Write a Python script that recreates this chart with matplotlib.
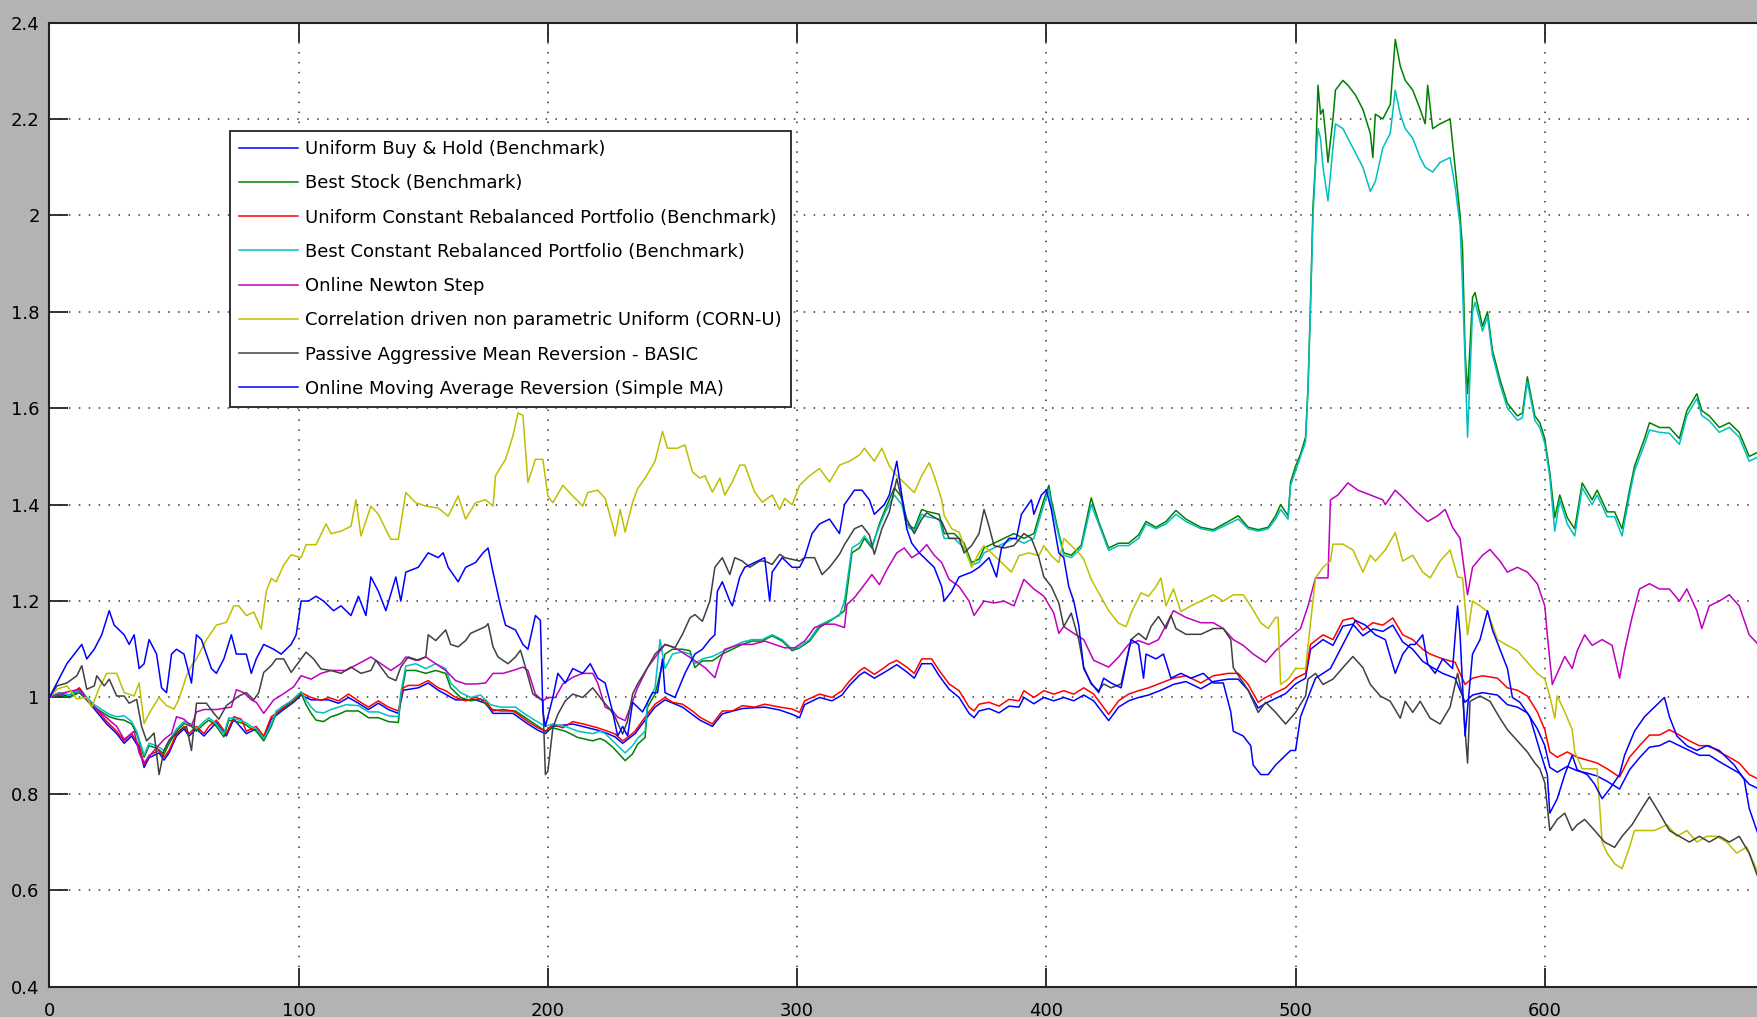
import matplotlib
matplotlib.use('Agg')
import matplotlib.pyplot as plt


labels = ['Uniform Buy & Hold (Benchmark)',
          'Best Stock (Benchmark)',
          'Uniform Constant Rebalanced Portfolio (Benchmark)',
          'Best Constant Rebalanced Portfolio (Benchmark)',
          'Online Newton Step',
          'Correlation driven non parametric Uniform (CORN-U)',
          'Passive Aggressive Mean Reversion - BASIC',
          'Online Moving Average Reversion (Simple MA)']

# (day, wealth) pairs
ubah = [(0,1.00),(4,1.01),(8,1.00),(12,1.015),(15,0.995),(19,0.97),(23,0.945),(27,0.925),(30,0.905),(33,0.92),
        (36,0.895),(38,0.855),(40,0.875),(44,0.885),(46,0.87),(48,0.885),(51,0.92),(54,0.935),(56,0.92),(59,0.935),
        (62,0.92),(67,0.948),(71,0.92),(74,0.955),(79,0.925),(83,0.935),(86,0.915),(89,0.955),(94,0.975),(98,0.99),
        (101,1.005),(105,0.995),(112,0.995),(116,0.988),(120,1.0),(124,0.988),(128,0.975),(132,0.988),(136,0.975),
        (140,0.967),(142,1.015),(148,1.02),(152,1.03),(156,1.015),(163,0.995),(171,0.995),(175,0.988),(178,0.967),
        (186,0.967),(192,0.945),(196,0.932),(199,0.925),(202,0.94),(210,0.945),(220,0.932),(224,0.925),(227,0.918),
        (230,0.905),(235,0.925),(240,0.96),(243,0.98),(247,0.995),(254,0.98),(261,0.953),(266,0.94),(270,0.966),
        (278,0.977),(287,0.98),(293,0.974),(298,0.965),(301,0.958),(303,0.985),(309,1.0),(314,0.993),(318,1.005),
        (321,1.025),(325,1.046),(327,1.053),(331,1.04),(335,1.052),(340,1.068),(344,1.053),(347,1.04),(350,1.07),
        (354,1.07),(357,1.045),(361,1.017),(365,1.0),(369,0.967),(371,0.958),(373,0.972),(377,0.977),(381,0.968),
        (385,0.982),(389,0.98),(391,1.0),(395,0.987),(399,1.0),(403,0.993),(407,1.0),(411,0.993),(415,1.005),
        (419,0.993),(425,0.952),(429,0.98),(433,0.993),(437,1.0),(441,1.005),(446,1.015),(451,1.027),(456,1.033),
        (462,1.018),(467,1.033),(473,1.038),(477,1.038),(481,1.015),(485,0.978),(488,0.988),(492,0.998),(496,1.008),
        (500,1.028),(504,1.04),(506,1.10),(511,1.12),(515,1.108),(519,1.148),(523,1.152),(527,1.128),(531,1.142),
        (535,1.137),(539,1.15),(543,1.115),(547,1.10),(551,1.075),(554,1.065),(559,1.05),(564,1.04),(568,0.99),
        (571,1.005),(575,1.01),(581,1.005),(585,0.985),(589,0.98),(593,0.968),(597,0.935),(600,0.9),(602,0.855),
        (605,0.845),(609,0.857),(613,0.848),(617,0.843),(621,0.837),(625,0.826),(630,0.81),(634,0.85),(638,0.875),
        (642,0.897),(646,0.9),(650,0.91),(654,0.9),(658,0.89),(662,0.88),(666,0.88),(670,0.867),(674,0.855),
        (678,0.843),(682,0.82),(686,0.81)]

best_stock = [(0,1.00),(4,1.005),(8,1.00),(12,1.01),(15,0.995),(18,0.98),(21,0.97),(24,0.96),(27,0.955),(30,0.953),
        (33,0.945),(35,0.925),(38,0.876),(40,0.90),(43,0.895),(46,0.883),(48,0.904),(51,0.93),(54,0.946),(57,0.94),
        (59,0.93),(62,0.945),(64,0.953),(67,0.94),(70,0.918),(72,0.953),(75,0.95),(78,0.946),(81,0.935),(83,0.93),
        (86,0.91),(89,0.94),(91,0.967),(94,0.978),(97,0.988),(101,1.008),(103,0.985),(105,0.967),(107,0.953),
        (110,0.95),(113,0.96),(116,0.965),(119,0.972),(124,0.972),(128,0.958),(132,0.958),(136,0.95),(140,0.948),
        (141,1.00),(143,1.056),(147,1.056),(151,1.05),(155,1.056),(159,1.05),(161,1.02),(165,1.00),(169,0.993),
        (173,0.997),(177,0.976),(181,0.972),(187,0.972),(191,0.958),(195,0.944),(199,0.93),(202,0.937),(207,0.93),
        (212,0.917),(218,0.91),(221,0.915),(223,0.91),(226,0.897),(229,0.88),(231,0.869),(234,0.883),(236,0.903),
        (239,0.917),(240,0.98),(243,1.007),(247,1.09),(250,1.10),(254,1.10),(257,1.097),(259,1.062),(262,1.076),
        (266,1.076),(270,1.09),(274,1.10),(278,1.11),(282,1.117),(286,1.117),(290,1.128),(294,1.117),(298,1.097),
        (301,1.103),(305,1.117),(309,1.145),(313,1.158),(317,1.172),(319,1.18),(322,1.30),(325,1.31),(327,1.33),
        (330,1.31),(333,1.36),(335,1.386),(337,1.41),(339,1.435),(342,1.415),(344,1.36),(347,1.35),(350,1.39),
        (352,1.386),(357,1.38),(359,1.34),(363,1.34),(367,1.32),(370,1.28),(373,1.287),(375,1.31),(379,1.32),
        (383,1.33),(387,1.34),(391,1.33),(395,1.34),(399,1.41),(401,1.44),(402,1.41),(405,1.34),(407,1.30),
        (410,1.295),(414,1.316),(418,1.414),(421,1.365),(425,1.31),(429,1.32),(433,1.32),(437,1.337),(440,1.365),
        (444,1.353),(448,1.365),(452,1.388),(456,1.37),(462,1.353),(467,1.348),(473,1.365),(477,1.377),(481,1.353),
        (485,1.348),(489,1.353),(492,1.377),(494,1.40),(497,1.377),(498,1.447),(500,1.48),(502,1.505),(504,1.54),
        (505,1.644),(506,1.82),(507,2.02),(508,2.11),(509,2.27),(510,2.21),(511,2.22),(512,2.17),(513,2.11),
        (515,2.2),(516,2.26),(519,2.28),(521,2.27),(524,2.25),(527,2.22),(530,2.17),(531,2.12),(532,2.21),(535,2.2),
        (538,2.23),(540,2.365),(542,2.31),(544,2.28),(547,2.26),(550,2.22),(552,2.19),(553,2.27),(555,2.18),
        (558,2.19),(562,2.2),(564,2.10),(566,2.0),(567,1.93),(568,1.72),(569,1.63),(571,1.83),(572,1.84),(575,1.77),
        (577,1.80),(579,1.72),(582,1.66),(585,1.61),(589,1.584),(591,1.59),(593,1.665),(596,1.584),(598,1.57),
        (600,1.537),(602,1.467),(604,1.373),(606,1.42),(609,1.373),(612,1.35),(615,1.445),(619,1.41),(621,1.43),
        (625,1.385),(628,1.385),(631,1.35),(634,1.43),(636,1.48),(640,1.537),(642,1.57),(646,1.56),(650,1.56),
        (654,1.537),(657,1.595),(661,1.63),(663,1.595),(666,1.584),(670,1.56),(674,1.57),(678,1.55),(682,1.50),
        (686,1.51)]

ucrp = [(0,1.00),(4,1.01),(8,1.005),(12,1.02),(15,1.00),(19,0.975),(23,0.95),(27,0.93),(30,0.91),(33,0.925),
        (36,0.90),(38,0.86),(40,0.88),(44,0.89),(46,0.876),(48,0.89),(51,0.925),(54,0.94),(56,0.925),(59,0.94),
        (62,0.925),(64,0.94),(67,0.953),(71,0.925),(74,0.96),(77,0.955),(79,0.93),(83,0.94),(86,0.92),(89,0.96),
        (91,0.967),(94,0.98),(98,0.994),(101,1.01),(105,1.00),(109,0.994),(112,1.00),(116,0.993),(120,1.007),
        (124,0.993),(128,0.98),(132,0.993),(136,0.98),(140,0.972),(142,1.02),(144,1.025),(148,1.025),(152,1.035),
        (156,1.02),(159,1.014),(163,1.00),(167,0.993),(171,1.00),(175,0.993),(178,0.972),(182,0.975),(186,0.972),
        (188,0.965),(192,0.95),(196,0.937),(199,0.93),(202,0.944),(206,0.937),(210,0.95),(215,0.944),(220,0.937),
        (224,0.93),(227,0.924),(230,0.91),(232,0.917),(235,0.93),(238,0.952),(240,0.966),(243,0.986),(247,1.00),
        (250,0.99),(254,0.986),(258,0.972),(261,0.959),(266,0.945),(270,0.972),(274,0.972),(278,0.983),(283,0.98),
        (287,0.986),(293,0.98),(298,0.976),(301,0.969),(303,0.993),(309,1.007),(314,1.00),(318,1.014),(321,1.034),
        (325,1.055),(327,1.062),(331,1.048),(335,1.062),(337,1.07),(340,1.077),(344,1.063),(347,1.05),(350,1.08),
        (354,1.08),(357,1.056),(361,1.028),(365,1.014),(369,0.98),(371,0.972),(373,0.986),(377,0.99),(381,0.982),
        (385,0.996),(389,0.993),(391,1.014),(395,1.00),(399,1.014),(403,1.007),(407,1.014),(411,1.007),(415,1.02),
        (419,1.007),(425,0.965),(429,0.993),(433,1.007),(437,1.014),(441,1.02),(446,1.03),(451,1.04),(456,1.045),
        (462,1.03),(467,1.045),(473,1.05),(477,1.05),(481,1.027),(485,0.99),(488,1.00),(492,1.01),(496,1.02),
        (500,1.04),(504,1.05),(506,1.11),(511,1.13),(515,1.12),(519,1.16),(523,1.165),(527,1.14),(531,1.155),
        (535,1.15),(539,1.165),(543,1.13),(547,1.12),(551,1.10),(554,1.09),(559,1.08),(564,1.073),(568,1.027),
        (571,1.04),(575,1.045),(581,1.04),(585,1.02),(589,1.015),(593,1.003),(597,0.97),(600,0.933),(602,0.887),
        (605,0.876),(609,0.887),(613,0.876),(617,0.87),(621,0.864),(625,0.852),(630,0.835),(634,0.876),(638,0.90),
        (642,0.922),(646,0.922),(650,0.933),(654,0.922),(658,0.91),(662,0.90),(666,0.90),(670,0.887),(674,0.876),
        (678,0.864),(682,0.84),(686,0.83)]

bcrp = [(0,1.00),(4,1.01),(8,1.005),(12,1.015),(15,1.0),(18,0.985),(21,0.975),(24,0.965),(27,0.96),(30,0.962),
        (33,0.95),(35,0.93),(38,0.88),(40,0.905),(43,0.90),(46,0.89),(48,0.91),(51,0.935),(54,0.95),(57,0.945),
        (59,0.935),(62,0.95),(64,0.958),(67,0.945),(70,0.925),(72,0.958),(75,0.955),(78,0.95),(81,0.94),(83,0.935),
        (86,0.915),(89,0.945),(91,0.972),(94,0.983),(97,0.993),(101,1.012),(103,0.995),(105,0.98),(107,0.97),
        (110,0.968),(113,0.975),(116,0.98),(119,0.985),(124,0.983),(128,0.97),(132,0.97),(136,0.962),(140,0.96),
        (141,1.01),(143,1.065),(147,1.07),(151,1.06),(155,1.07),(159,1.06),(161,1.03),(165,1.01),(169,1.0),
        (173,1.005),(177,0.985),(181,0.98),(187,0.98),(191,0.965),(195,0.952),(199,0.94),(202,0.945),(207,0.94),
        (212,0.93),(218,0.925),(221,0.93),(223,0.925),(226,0.91),(229,0.895),(231,0.885),(234,0.9),(236,0.915),
        (239,0.93),(240,0.99),(243,1.02),(245,1.12),(247,1.06),(250,1.09),(254,1.095),(257,1.09),(259,1.07),
        (262,1.08),(266,1.085),(270,1.095),(274,1.105),(278,1.115),(282,1.12),(286,1.12),(290,1.13),(294,1.12),
        (298,1.10),(301,1.105),(305,1.12),(309,1.15),(313,1.16),(317,1.17),(319,1.20),(322,1.31),(325,1.32),
        (327,1.335),(330,1.315),(333,1.355),(335,1.38),(337,1.40),(339,1.42),(342,1.40),(344,1.355),(347,1.345),
        (350,1.38),(352,1.375),(357,1.37),(359,1.33),(363,1.33),(367,1.31),(370,1.275),(373,1.28),(375,1.30),
        (379,1.31),(383,1.32),(387,1.33),(391,1.32),(395,1.33),(399,1.40),(401,1.43),(402,1.40),(405,1.335),
        (407,1.295),(410,1.29),(414,1.31),(418,1.40),(421,1.36),(425,1.305),(429,1.315),(433,1.315),(437,1.33),
        (440,1.36),(444,1.35),(448,1.36),(452,1.38),(456,1.365),(462,1.35),(467,1.345),(473,1.36),(477,1.37),
        (481,1.35),(485,1.345),(489,1.35),(492,1.37),(494,1.39),(497,1.37),(498,1.44),(500,1.47),(502,1.50),
        (504,1.53),(505,1.64),(506,1.81),(507,2.0),(508,2.10),(509,2.18),(510,2.16),(511,2.10),(513,2.03),
        (515,2.14),(516,2.19),(519,2.18),(521,2.16),(524,2.13),(527,2.10),(530,2.05),(532,2.07),(535,2.14),
        (538,2.17),(540,2.26),(542,2.21),(544,2.18),(547,2.16),(550,2.12),(552,2.10),(555,2.09),(558,2.11),
        (562,2.12),(564,2.06),(566,1.98),(567,1.85),(568,1.70),(569,1.54),(571,1.80),(572,1.82),(575,1.76),
        (577,1.79),(579,1.71),(582,1.65),(585,1.60),(589,1.575),(591,1.58),(593,1.655),(596,1.575),(598,1.56),
        (600,1.527),(602,1.457),(604,1.345),(606,1.41),(609,1.36),(612,1.335),(615,1.435),(619,1.40),(621,1.42),
        (625,1.375),(628,1.375),(631,1.335),(634,1.42),(636,1.47),(640,1.525),(642,1.555),(646,1.55),(650,1.548),
        (654,1.525),(657,1.585),(661,1.62),(663,1.585),(666,1.574),(670,1.55),(674,1.56),(678,1.54),(682,1.49),
        (686,1.50)]

ons = [(0,1.00),(6,1.01),(12,1.017),(16,0.99),(22,0.962),(27,0.94),(30,0.913),(34,0.93),(36,0.885),(38,0.865),
       (42,0.89),(46,0.913),(49,0.925),(51,0.96),(54,0.955),(57,0.94),(59,0.97),(62,0.975),(67,0.975),(73,0.98),
       (75,1.016),(78,1.01),(81,0.995),(83,0.99),(86,0.967),(90,0.995),(94,1.008),(98,1.022),(101,1.045),
       (105,1.038),(109,1.05),(113,1.056),(119,1.056),(124,1.07),(129,1.084),(133,1.07),(137,1.056),(141,1.07),
       (143,1.084),(147,1.077),(151,1.084),(155,1.07),(159,1.056),(163,1.035),(167,1.028),(171,1.028),(175,1.03),
       (178,1.05),(182,1.05),(186,1.056),(190,1.063),(192,1.056),(195,1.007),(198,0.993),(200,1.0),(203,1.0),
       (206,1.028),(210,1.042),(214,1.05),(218,1.05),(220,1.03),(223,0.98),(226,0.972),(228,0.959),(231,0.952),
       (234,0.993),(236,1.02),(240,1.062),(244,1.09),(247,1.11),(251,1.103),(255,1.09),(259,1.076),(263,1.062),
       (267,1.041),(269,1.076),(271,1.10),(277,1.11),(282,1.11),(287,1.117),(291,1.11),(295,1.103),(299,1.103),
       (303,1.117),(307,1.145),(311,1.152),(315,1.152),(319,1.145),(320,1.193),(323,1.207),(327,1.234),
       (330,1.255),(333,1.234),(336,1.265),(340,1.30),(343,1.31),(346,1.29),(349,1.30),(352,1.317),(355,1.295),
       (358,1.28),(361,1.245),(365,1.23),(369,1.20),(371,1.17),(375,1.20),(379,1.196),(383,1.20),(387,1.19),
       (391,1.245),(395,1.225),(399,1.21),(403,1.175),(405,1.133),(407,1.147),(411,1.133),(415,1.12),(419,1.077),
       (425,1.063),(429,1.084),(433,1.11),(437,1.118),(441,1.11),(445,1.12),(451,1.18),(456,1.166),(462,1.155),
       (467,1.155),(471,1.143),(475,1.12),(479,1.108),(483,1.09),(488,1.073),(492,1.097),(497,1.12),(502,1.143),
       (505,1.19),(508,1.248),(511,1.248),(513,1.248),(514,1.41),(517,1.42),(521,1.445),(525,1.43),(530,1.42),
       (535,1.41),(536,1.40),(540,1.43),(544,1.41),(548,1.388),(553,1.365),(557,1.377),(560,1.39),(563,1.353),
       (566,1.33),(569,1.213),(571,1.27),(575,1.295),(578,1.307),(582,1.283),(585,1.26),(589,1.27),(593,1.26),
       (597,1.236),(600,1.19),(601,1.13),(603,1.027),(605,1.05),(608,1.085),(611,1.06),(613,1.097),(616,1.13),
       (619,1.108),(623,1.12),(627,1.108),(630,1.04),(632,1.097),(635,1.166),(638,1.225),(642,1.236),(646,1.225),
       (650,1.225),(654,1.20),(657,1.225),(661,1.18),(663,1.143),(666,1.19),(670,1.20),(674,1.213),(678,1.19),
       (682,1.13),(686,1.108)]

corn_u = [(0,1.00),(3,1.017),(7,1.024),(11,0.997),(15,1.0),(17,0.98),(20,1.02),(23,1.05),(27,1.05),(30,1.01),
          (34,1.003),(36,1.03),(38,0.946),(40,0.967),(44,1.0),(47,0.983),(50,0.976),(52,0.997),(55,1.045),(57,1.066),
          (59,1.08),(63,1.12),(67,1.15),(71,1.156),(74,1.19),(76,1.19),(79,1.17),(82,1.177),(85,1.142),(87,1.22),
          (89,1.247),(91,1.24),(94,1.275),(97,1.296),(101,1.29),(103,1.317),(107,1.317),(111,1.36),(113,1.34),
          (117,1.345),(121,1.355),(123,1.41),(125,1.335),(129,1.397),(132,1.38),(135,1.348),(137,1.328),(140,1.328),
          (143,1.425),(147,1.404),(151,1.397),(156,1.393),(160,1.376),(164,1.418),(167,1.37),(171,1.404),(175,1.41),
          (178,1.397),(179,1.46),(183,1.494),(186,1.543),(188,1.59),(190,1.585),(192,1.446),(195,1.494),(198,1.494),
          (200,1.418),(202,1.404),(206,1.44),(210,1.418),(214,1.397),(216,1.425),(220,1.43),(223,1.413),(226,1.357),
          (227,1.335),(229,1.39),(231,1.343),(234,1.405),(236,1.433),(239,1.455),(243,1.49),(246,1.552),(248,1.517),
          (252,1.517),(255,1.524),(258,1.468),(261,1.455),(263,1.46),(266,1.426),(269,1.455),(271,1.42),(274,1.447),
          (277,1.482),(279,1.482),(283,1.426),(286,1.405),(290,1.42),(293,1.39),(295,1.413),(298,1.40),(301,1.44),
          (305,1.46),(309,1.475),(313,1.447),(317,1.482),(321,1.49),(325,1.503),(327,1.517),(331,1.49),(334,1.517),
          (337,1.48),(340,1.46),(342,1.45),(344,1.44),(347,1.425),(350,1.46),(353,1.487),(355,1.46),(358,1.41),
          (359,1.378),(362,1.35),(365,1.343),(367,1.315),(370,1.27),(373,1.30),(375,1.315),(378,1.30),(382,1.28),
          (386,1.26),(389,1.294),(393,1.30),(397,1.294),(399,1.315),(402,1.294),(405,1.28),(407,1.33),(410,1.315),
          (413,1.30),(415,1.287),(418,1.245),(421,1.217),(425,1.18),(429,1.154),(432,1.147),(434,1.175),(438,1.217),
          (441,1.21),(444,1.23),(446,1.248),(448,1.19),(451,1.225),(454,1.178),(458,1.19),(462,1.2),(467,1.213),
          (471,1.2),(475,1.213),(479,1.213),(482,1.19),(486,1.155),(489,1.143),(492,1.166),(493,1.166),(494,1.027),
          (497,1.038),(500,1.06),(504,1.06),(505,1.108),(508,1.248),(511,1.27),(514,1.283),(515,1.318),(519,1.318),
          (523,1.306),(527,1.26),(530,1.295),(532,1.283),(536,1.306),(540,1.342),(543,1.283),(547,1.295),(551,1.26),
          (554,1.248),(558,1.283),(562,1.306),(565,1.25),(567,1.248),(569,1.13),(571,1.2),(574,1.19),(577,1.178),
          (581,1.12),(585,1.108),(589,1.097),(593,1.073),(597,1.05),(600,1.038),(602,1.003),(604,0.957),(605,1.003),
          (608,0.97),(611,0.933),(612,0.887),(615,0.852),(617,0.852),(621,0.852),(623,0.70),(625,0.677),(628,0.655),
          (631,0.645),(634,0.69),(636,0.724),(640,0.724),(644,0.724),(649,0.736),(653,0.712),(657,0.724),(661,0.70),
          (665,0.712),(669,0.712),(673,0.70),(677,0.677),(681,0.69),(684,0.655),(686,0.63)]

pamr = [(0,1.00),(3,1.024),(7,1.03),(11,1.045),(13,1.066),(15,1.017),(18,1.024),(19,1.045),(22,1.024),(24,1.038),
        (27,1.003),(30,1.003),(32,0.988),(35,0.996),(37,0.94),(39,0.91),(42,0.926),(44,0.84),(46,0.89),(48,0.911),
        (51,0.926),(55,0.94),(57,0.89),(59,0.988),(63,0.988),(66,0.967),(68,0.955),(71,0.983),(74,0.995),(76,1.003),
        (79,1.01),(82,0.995),(84,1.01),(86,1.052),(89,1.066),(91,1.08),(94,1.08),(97,1.052),(99,1.066),(103,1.094),
        (106,1.08),(109,1.059),(113,1.056),(117,1.05),(121,1.063),(125,1.05),(129,1.056),(131,1.077),(136,1.042),
        (139,1.035),(141,1.063),(144,1.084),(148,1.077),(151,1.084),(152,1.13),(155,1.118),(159,1.14),(161,1.11),
        (164,1.105),(167,1.118),(169,1.133),(172,1.14),(175,1.147),(176,1.153),(178,1.105),(180,1.084),(184,1.07),
        (187,1.084),(189,1.098),(191,1.063),(194,1.007),(198,0.993),(199,0.84),(200,0.847),(202,0.937),(204,0.965),
        (207,0.993),(210,1.007),(214,1.0),(218,1.02),(222,0.993),(225,0.975),(227,0.959),(230,0.924),(232,0.952),
        (234,1.007),(236,1.028),(240,1.062),(243,1.09),(247,1.11),(251,1.103),(254,1.131),(257,1.165),(259,1.172),
        (262,1.158),(265,1.2),(267,1.27),(270,1.29),(273,1.255),(275,1.29),(278,1.283),(281,1.27),(285,1.283),
        (287,1.283),(290,1.276),(293,1.297),(295,1.29),(301,1.283),(303,1.29),(307,1.29),(310,1.255),(313,1.27),
        (317,1.297),(319,1.317),(323,1.35),(326,1.357),(329,1.337),(331,1.297),(334,1.35),(337,1.385),(340,1.454),
        (342,1.41),(344,1.37),(347,1.34),(350,1.37),(352,1.383),(358,1.365),(361,1.33),(365,1.33),(367,1.30),
        (370,1.315),(373,1.34),(375,1.39),(377,1.355),(379,1.315),(383,1.31),(387,1.315),(391,1.34),(394,1.33),
        (397,1.29),(399,1.25),(402,1.23),(405,1.196),(407,1.147),(410,1.175),(413,1.12),(415,1.063),(418,1.028),
        (421,1.014),(423,1.028),(426,1.02),(430,1.028),(434,1.12),(437,1.133),(440,1.12),(442,1.147),(445,1.168),
        (448,1.143),(450,1.17),(452,1.143),(456,1.131),(462,1.131),(467,1.143),(471,1.143),(474,1.12),(475,1.062),
        (478,1.038),(481,1.015),(485,0.969),(488,0.99),(492,0.969),(496,0.945),(500,0.969),(504,1.003),(505,1.038),
        (508,1.05),(511,1.027),(515,1.038),(519,1.062),(523,1.085),(527,1.062),(530,1.027),(534,1.003),(538,0.992),
        (542,0.957),(544,0.992),(547,0.969),(550,0.992),(554,0.957),(558,0.945),(562,0.98),(565,1.05),(567,1.003),
        (569,0.864),(570,0.992),(574,1.003),(578,0.992),(582,0.957),(585,0.933),(589,0.91),(593,0.887),(596,0.864),
        (598,0.852),(600,0.823),(602,0.724),(605,0.747),(608,0.76),(611,0.724),(613,0.736),(616,0.747),(620,0.724),
        (624,0.70),(628,0.689),(631,0.712),(635,0.736),(639,0.77),(642,0.794),(646,0.76),(650,0.724),(654,0.712),
        (658,0.70),(662,0.712),(666,0.70),(670,0.712),(674,0.70),(678,0.712),(682,0.677),(686,0.62)]

olmar = [(0,1.00),(3,1.03),(7,1.07),(10,1.09),(13,1.11),(15,1.08),(18,1.10),(21,1.13),(24,1.18),(26,1.15),
         (30,1.13),(32,1.11),(34,1.13),(36,1.06),(38,1.07),(40,1.12),(43,1.09),(45,1.02),(47,1.01),(49,1.09),
         (51,1.10),(54,1.09),(57,1.03),(59,1.13),(61,1.12),(65,1.06),(67,1.05),(70,1.08),(73,1.13),(75,1.09),
         (79,1.09),(81,1.05),(83,1.08),(86,1.11),(90,1.10),(93,1.09),(97,1.11),(99,1.13),(101,1.20),(104,1.20),
         (107,1.21),(110,1.20),(114,1.18),(117,1.19),(121,1.17),(124,1.21),(127,1.17),(129,1.25),(132,1.22),
         (135,1.18),(139,1.25),(141,1.20),(143,1.26),(148,1.27),(152,1.30),(156,1.29),(158,1.30),(160,1.27),
         (164,1.24),(167,1.27),(171,1.28),(174,1.30),(176,1.31),(178,1.26),(181,1.19),(183,1.15),(187,1.14),
         (190,1.11),(192,1.10),(195,1.17),(197,1.16),(198,0.97),(199,0.94),(202,1.00),(204,1.05),(207,1.03),
         (210,1.06),(214,1.05),(217,1.07),(220,1.04),(223,1.03),(226,0.97),(228,0.92),(230,0.94),(232,0.92),
         (234,0.99),(238,0.97),(242,1.01),(244,1.01),(246,1.08),(247,1.01),(251,1.00),(255,1.05),(259,1.09),
         (262,1.10),(265,1.12),(267,1.13),(268,1.22),(270,1.24),(273,1.20),(274,1.19),(277,1.25),(279,1.27),
         (283,1.28),(287,1.29),(289,1.20),(290,1.26),(294,1.29),(298,1.27),(301,1.27),(303,1.29),(306,1.34),
         (309,1.36),(313,1.37),(317,1.34),(319,1.40),(323,1.43),(326,1.43),(329,1.41),(331,1.38),(335,1.40),
         (337,1.42),(340,1.49),(342,1.42),(344,1.35),(346,1.32),(349,1.30),(351,1.29),(355,1.27),(358,1.23),
         (359,1.20),(362,1.22),(365,1.25),(370,1.26),(373,1.27),(377,1.29),(380,1.25),(382,1.31),(385,1.33),
         (388,1.33),(390,1.38),(394,1.41),(395,1.38),(398,1.42),(400,1.43),(402,1.39),(405,1.30),(407,1.29),
         (409,1.23),(411,1.20),(413,1.15),(415,1.06),(418,1.03),(421,1.01),(423,1.04),(426,1.03),(430,1.02),
         (434,1.12),(437,1.11),(439,1.04),(440,1.09),(444,1.08),(447,1.09),(450,1.04),(454,1.05),(458,1.04),
         (463,1.05),(467,1.03),(471,1.03),(474,0.97),(475,0.93),(479,0.92),(482,0.90),(483,0.86),(486,0.84),
         (489,0.84),(492,0.86),(494,0.87),(498,0.89),(500,0.89),(502,0.96),(505,1.00),(508,1.04),(511,1.05),
         (514,1.06),(517,1.09),(521,1.13),(524,1.16),(528,1.15),(532,1.13),(536,1.12),(540,1.05),(543,1.09),
         (546,1.11),(548,1.11),(551,1.13),(553,1.07),(556,1.05),(559,1.08),(563,1.06),(565,1.19),(566,1.13),
         (568,0.92),(571,1.09),(574,1.12),(577,1.18),(579,1.14),(582,1.10),(585,1.06),(587,1.00),(590,0.99),
         (594,0.96),(598,0.89),(601,0.84),(602,0.76),(605,0.79),(608,0.84),(611,0.88),(613,0.85),(617,0.84),
         (620,0.82),(623,0.79),(626,0.81),(630,0.84),(632,0.88),(636,0.93),(640,0.96),(644,0.98),(648,1.00),
         (650,0.96),(653,0.92),(657,0.90),(661,0.89),(665,0.90),(670,0.89),(676,0.86),(680,0.83),(682,0.77),
         (686,0.71)]

series = [ubah, best_stock, ucrp, bcrp, ons, corn_u, pamr, olmar]
colors = ['#0000ff', '#008000', '#ff0000', '#00bfbf', '#bf00bf', '#bfbf00', '#404040', '#0000ff']

x_ticks = [0, 100, 200, 300, 400, 500, 600]
y_ticks = [0.4, 0.6, 0.8, 1.0, 1.2, 1.4, 1.6, 1.8, 2.0, 2.2, 2.4]
y_tick_labels = ['0.4', '0.6', '0.8', '1', '1.2', '1.4', '1.6', '1.8', '2', '2.2', '2.4']


def main():

    plt.rcParams['font.family'] = ['DejaVu Sans']
    fig = plt.figure(figsize=(17.58, 10.17), dpi=100, facecolor='#b3b3b3')
    ax = fig.add_axes([0.0281, 0.0298, 0.9924, 0.948])
    ax.set_facecolor('white')

    for data, color, label in zip(series, colors, labels):
        xs = [p[0] for p in data]
        ys = [p[1] for p in data]
        ax.plot(xs, ys, color=color, linewidth=1.1, label=label)

    ax.set_xlim(0, 700)
    ax.set_ylim(0.4, 2.4)
    ax.set_xticks(x_ticks)
    ax.set_yticks(y_ticks)
    ax.set_yticklabels(y_tick_labels)
    ax.grid(True, color='#333333', linestyle=(0, (1, 5.5)), linewidth=1.1)
    ax.tick_params(direction='in', length=14, width=1.3, color='#222222',
                   labelsize=13, top=True, right=True, pad=7)
    ax.tick_params(axis='x', pad=11)
    for sp in ax.spines.values():
        sp.set_color('#222222')
        sp.set_linewidth(1.5)

    leg = ax.legend(loc='upper left', bbox_to_anchor=(0.1308, 0.8712), bbox_transform=fig.transFigure,
                    borderaxespad=0, fontsize=13, handlelength=3.25, handletextpad=0.42,
                    labelspacing=0.9, borderpad=0.5, fancybox=False, framealpha=1)
    leg.get_frame().set_edgecolor('#222222')
    leg.get_frame().set_linewidth(1.3)

    fig.savefig('out.png', dpi=100, facecolor=fig.get_facecolor())


if __name__ == '__main__':
    main()
